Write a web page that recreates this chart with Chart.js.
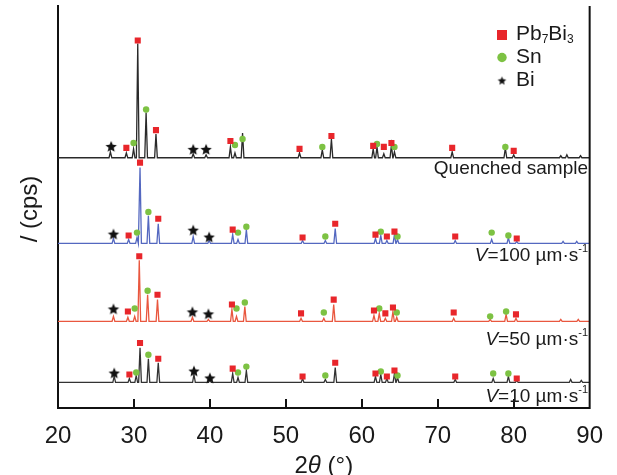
<!DOCTYPE html>
<html>
<head>
<meta charset="utf-8">
<script src="https://cdn.jsdelivr.net/npm/chart.js@4.4.0/dist/chart.umd.min.js"></script>
<style>
  html, body { margin: 0; padding: 0; background: #fff; }
  #wrap { width: 617px; height: 475px; }
</style>
</head>
<body>
<div id="wrap"><canvas id="xrd" width="617" height="475"></canvas></div>
<script>
// 2theta tick labels
const xTicks = [20, 30, 40, 50, 60, 70, 80, 90];

// baseline level of each pattern (stacked offsets, a.u.)
const baseQ = 254, base100 = 167, base50 = 88, base10 = 26;

// peak positions (2theta) and heights above baseline
const qPos = [26.9, 29.0, 29.95, 30.5, 31.6, 32.9, 37.8, 39.5, 42.7, 43.3, 44.3, 51.8, 54.8, 56.0, 61.5, 62.0, 62.9, 63.9, 64.3, 71.9, 78.9, 80.0, 86.2, 87.0, 88.8];
const qInt = [6, 5, 9, 116, 46, 24, 4, 3, 11, 5, 25, 5, 8, 19, 9, 11, 4, 13, 6, 6, 10, 3, 2, 3, 2];

const v100Pos = [27.3, 29.3, 30.4, 30.8, 31.9, 33.2, 37.8, 39.9, 43.0, 43.7, 44.8, 52.2, 55.2, 56.5, 61.8, 62.5, 63.3, 64.3, 64.7, 72.3, 77.1, 79.3, 80.4, 86.5, 88.3];
const v100Int = [5, 4, 6, 77, 28, 20, 7, 3, 9, 4, 14, 3, 3, 15, 5, 8, 3, 9, 4, 3, 4, 6, 2, 2, 2];

const v50Pos = [27.3, 29.2, 30.1, 30.7, 31.8, 33.1, 37.7, 39.8, 42.9, 43.5, 44.6, 52.0, 55.0, 56.3, 61.6, 62.3, 63.1, 64.1, 64.6, 72.1, 76.9, 79.0, 80.3, 86.2, 88.5];
const v50Int = [5, 4, 5, 62, 27, 22, 4, 2, 12, 5, 15, 3, 3, 17, 6, 8, 3, 10, 4, 3, 2, 7, 3, 2, 2];

const v10Pos = [27.4, 29.4, 30.3, 30.8, 31.9, 33.2, 37.9, 40.0, 43.0, 43.7, 44.8, 52.2, 55.2, 56.5, 61.8, 62.5, 63.3, 64.3, 64.7, 72.3, 77.3, 79.3, 80.4, 87.5, 88.9];
const v10Int = [6, 4, 7, 35, 24, 20, 8, 3, 9, 5, 12, 4, 3, 15, 6, 8, 4, 9, 5, 3, 4, 6, 2, 3, 2];

// phase markers: Pb7Bi3 (red squares)
const pbQx = [29.0, 30.5, 32.9, 42.7, 51.8, 56.0, 61.5, 62.9, 63.9, 71.9, 80.0];
const pbQy = [264, 373, 282, 271, 263, 276, 266, 265, 269, 264, 261];
const pb100x = [29.3, 30.8, 33.2, 43.0, 52.2, 56.5, 61.8, 63.3, 64.3, 72.3, 80.4];
const pb100y = [175, 249, 192, 181, 173, 187, 176, 174, 179, 174, 172];
const pb50x = [29.2, 30.7, 33.1, 42.9, 52.0, 56.3, 61.6, 63.1, 64.1, 72.1, 80.3];
const pb50y = [98, 154, 115, 105, 96, 110, 99, 96, 102, 97, 95];
const pb10x = [29.4, 30.8, 33.2, 43.0, 52.2, 56.5, 61.8, 63.3, 64.3, 72.3, 80.4];
const pb10y = [34, 66, 50, 40, 32, 46, 35, 32, 38, 32, 30];

// Sn (green circles)
const snQx = [29.95, 31.6, 43.3, 44.3, 54.8, 62.0, 64.3, 78.9];
const snQy = [269, 303, 267, 273, 265, 268, 265, 265];
const sn100x = [30.4, 31.9, 43.7, 44.8, 55.2, 62.5, 64.7, 77.1, 79.3];
const sn100y = [178, 199, 178, 184, 174, 179, 174, 178, 175];
const sn50x = [30.1, 31.8, 43.5, 44.6, 55.0, 62.3, 64.6, 76.9, 79.0];
const sn50y = [101, 119, 101, 107, 97, 101, 97, 93, 98];
const sn10x = [30.3, 31.9, 43.7, 44.8, 55.2, 62.5, 64.7, 77.3, 79.3];
const sn10y = [36, 54, 36, 42, 33, 37, 33, 35, 35];

// Bi (black stars)
const biQx = [27.0, 37.8, 39.5];
const biQy = [265, 262, 262];
const bi100x = [27.3, 37.8, 39.9];
const bi100y = [176, 180, 173];
const bi50x = [27.3, 37.7, 39.8];
const bi50y = [100, 97, 95];
const bi10x = [27.4, 37.9, 40.0];
const bi10y = [35, 37, 30];

const FONT = '"Liberation Sans", Arial, sans-serif';
const PEAK_HW = 0.18;

function pattern(base, pos, inten) {
  const pts = [{ x: 20, y: base }];
  pos.forEach((p, i) => {
    pts.push({ x: p - PEAK_HW, y: base }, { x: p, y: base + inten[i] }, { x: p + PEAK_HW, y: base });
  });
  pts.push({ x: 90, y: base });
  return pts;
}
const pairs = (xs, ys) => xs.map((x, i) => ({ x, y: ys[i] }));

function starCanvas(r) {
  const c = document.createElement('canvas');
  c.width = c.height = Math.ceil(2 * r + 2);
  const g = c.getContext('2d');
  g.fillStyle = '#111';
  g.beginPath();
  for (let k = 0; k < 10; k++) {
    const rad = k % 2 ? r * 0.45 : r;
    const a = -Math.PI / 2 + k * Math.PI / 5;
    g.lineTo(c.width / 2 + rad * Math.cos(a), c.height / 2 + rad * Math.sin(a));
  }
  g.closePath();
  g.fill();
  return c;
}
const star = starCanvas(6);
const starSmall = starCanvas(4.5);

const RED = '#e8262b', GREEN = '#7dc243';

const lineDs = (data, color) => ({
  type: 'line', data, borderColor: color, borderWidth: 1.3,
  pointRadius: 0, tension: 0, fill: false, order: 2
});
const markDs = (data, style) => Object.assign({
  type: 'scatter', data, order: 0, borderWidth: 0
}, style);

const sq = { pointStyle: 'rect', pointRadius: 4.3, backgroundColor: RED };
const ci = { pointStyle: 'circle', pointRadius: 3.2, backgroundColor: GREEN };
const st = { pointStyle: star, pointRadius: 6 };

// frame, inward ticks, labels, legend
const decor = {
  id: 'decor',
  afterDraw(chart) {
    const { ctx, chartArea: a, scales: { x } } = chart;
    ctx.save();
    ctx.strokeStyle = '#111';
    ctx.lineWidth = 2;
    ctx.beginPath();
    ctx.moveTo(a.right, a.top); ctx.lineTo(a.right, a.bottom + 1);
    xTicks.slice(1, -1).forEach(v => {
      const px = Math.round(x.getPixelForValue(v));
      ctx.moveTo(px, a.bottom); ctx.lineTo(px, a.bottom - 9);
    });
    ctx.stroke();

    ctx.fillStyle = '#1a1a1a';
    ctx.textBaseline = 'middle';

    // y title
    ctx.save();
    ctx.translate(30, 209);
    ctx.rotate(-Math.PI / 2);
    ctx.font = '24px ' + FONT;
    ctx.textAlign = 'center';
    ctx.fillText('/ (cps)', 0, 0);
    ctx.restore();

    // x title
    const parts = [['2', '24px '], ['θ', 'italic 24px '], [' (°)', '24px ']];
    let w = 0;
    parts.forEach(p => { ctx.font = p[1] + FONT; w += ctx.measureText(p[0]).width; });
    let cx = (a.left + a.right) / 2 - w / 2;
    ctx.textAlign = 'left';
    parts.forEach(p => { ctx.font = p[1] + FONT; ctx.fillText(p[0], cx, 466); cx += ctx.measureText(p[0]).width; });

    // sample labels
    ctx.font = '19px ' + FONT;
    ctx.textAlign = 'right';
    ctx.fillText('Quenched sample', 588, 169);
    ctx.textAlign = 'left';
    [['100', 256], ['50', 340], ['10', 397]].forEach(([v, yy]) => {
      const seg = [['V', 'italic 19px ', 0], ['=' + v + ' µm·s', '19px ', 0], ['-1', '11px ', -7]];
      let tw = 0;
      seg.forEach(s => { ctx.font = s[1] + FONT; tw += ctx.measureText(s[0]).width; });
      let sx = 588 - tw;
      seg.forEach(s => { ctx.font = s[1] + FONT; ctx.fillText(s[0], sx, yy + s[2]); sx += ctx.measureText(s[0]).width; });
    });

    // legend
    ctx.fillStyle = RED;
    ctx.fillRect(497, 30, 10, 10);
    ctx.fillStyle = GREEN;
    ctx.beginPath(); ctx.arc(502, 57.5, 4.7, 0, Math.PI * 2); ctx.fill();
    ctx.drawImage(starSmall, 502 - starSmall.width / 2, 81 - starSmall.height / 2);
    ctx.fillStyle = '#1a1a1a';
    const leg = [['Pb', '21px ', 0], ['7', '12px ', 6], ['Bi', '21px ', 0], ['3', '12px ', 6]];
    let lx = 516;
    leg.forEach(s => { ctx.font = s[1] + FONT; ctx.fillText(s[0], lx, 34 + s[2]); lx += ctx.measureText(s[0]).width; });
    ctx.font = '21px ' + FONT;
    ctx.fillText('Sn', 516, 57.5);
    ctx.fillText('Bi', 516, 80.5);
    ctx.restore();
  }
};

new Chart(document.getElementById('xrd'), {
  data: {
    datasets: [
      markDs(pairs(pbQx, pbQy), sq), markDs(pairs(pb100x, pb100y), sq),
      markDs(pairs(pb50x, pb50y), sq), markDs(pairs(pb10x, pb10y), sq),
      markDs(pairs(snQx, snQy), ci), markDs(pairs(sn100x, sn100y), ci),
      markDs(pairs(sn50x, sn50y), ci), markDs(pairs(sn10x, sn10y), ci),
      markDs(pairs(biQx, biQy), st), markDs(pairs(bi100x, bi100y), st),
      markDs(pairs(bi50x, bi50y), st), markDs(pairs(bi10x, bi10y), st),
      lineDs(pattern(baseQ, qPos, qInt), '#2a2a2a'),
      lineDs(pattern(base100, v100Pos, v100Int), '#5468c0'),
      lineDs(pattern(base50, v50Pos, v50Int), '#e9573f'),
      lineDs(pattern(base10, v10Pos, v10Int), '#333333')
    ]
  },
  options: {
    responsive: false,
    animation: false,
    events: [],
    layout: { padding: { top: 0, right: 23, left: 0, bottom: 0 } },
    plugins: { legend: { display: false }, tooltip: { enabled: false } },
    scales: {
      x: {
        type: 'linear', min: 20, max: 90,
        afterBuildTicks: s => { s.ticks = xTicks.map(v => ({ value: v })); },
        afterFit: s => { s.height = 67; },
        grid: { display: false, drawTicks: false },
        border: { display: true, color: '#111', width: 2 },
        ticks: { autoSkip: false, maxRotation: 0, padding: 14, color: '#1a1a1a', font: { size: 24, family: FONT } }
      },
      y: {
        min: 0, max: 408,
        afterFit: s => { s.width = 58; },
        grid: { display: false, drawTicks: false },
        border: { display: true, color: '#111', width: 2 },
        ticks: { display: false }
      }
    }
  },
  plugins: [decor]
});
</script>
</body>
</html>
